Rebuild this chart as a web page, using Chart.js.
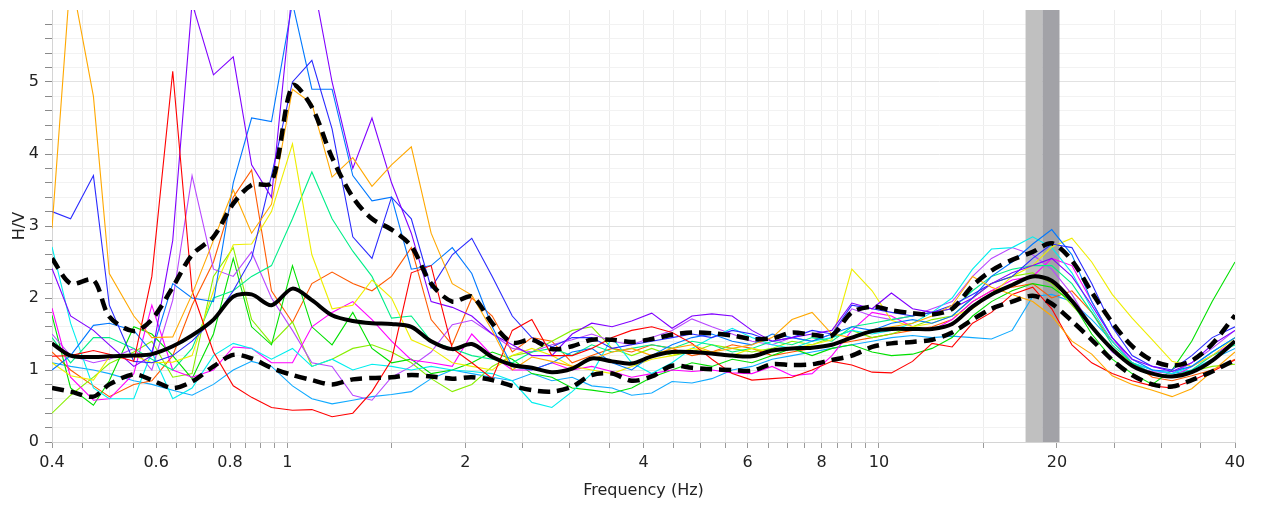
<!DOCTYPE html>
<html>
<head>
<meta charset="utf-8">
<script src="https://cdn.jsdelivr.net/npm/chart.js@4.4.1/dist/chart.umd.min.js"></script>
<style>
  html, body { margin: 0; padding: 0; background: #fff; }
  #wrap { width: 1263px; height: 507px; position: relative; }
</style>
</head>
<body>
<div id="wrap"><canvas id="hvChart"></canvas></div>
<script>
// frequency samples (Hz)
const freqs = [0.40, 0.43, 0.47, 0.50, 0.55, 0.59, 0.64, 0.69, 0.75, 0.81,
  0.87, 0.94, 1.02, 1.10, 1.19, 1.29, 1.39, 1.50, 1.62, 1.75,
  1.90, 2.05, 2.22, 2.40, 2.59, 2.80, 3.03, 3.27, 3.54, 3.82,
  4.13, 4.47, 4.83, 5.22, 5.65, 6.10, 6.60, 7.13, 7.71, 8.33,
  9.00, 9.74, 10.5, 11.4, 12.3, 13.3, 14.4, 15.5, 16.8, 18.2,
  19.6, 21.2, 22.9, 24.8, 26.8, 29.0, 31.3, 33.8, 36.6, 40.0];

// average H/V and mean +/- std
const meanHV = [1.37, 1.20, 1.18, 1.19, 1.20, 1.22, 1.33, 1.48, 1.70, 2.02,
  2.05, 1.90, 2.13, 1.97, 1.76, 1.68, 1.65, 1.64, 1.60, 1.40,
  1.29, 1.36, 1.18, 1.07, 1.03, 0.97, 1.02, 1.16, 1.12, 1.09,
  1.19, 1.25, 1.25, 1.23, 1.20, 1.19, 1.27, 1.30, 1.31, 1.35,
  1.45, 1.54, 1.57, 1.57, 1.57, 1.64, 1.88, 2.05, 2.18, 2.30,
  2.24, 1.96, 1.60, 1.29, 1.06, 0.95, 0.91, 0.97, 1.13, 1.40];
const upperHV = [2.55, 2.20, 2.25, 1.74, 1.54, 1.70, 2.15, 2.60, 2.85, 3.31,
  3.57, 3.60, 4.95, 4.65, 3.95, 3.40, 3.10, 2.95, 2.72, 2.20,
  1.95, 2.02, 1.65, 1.38, 1.42, 1.29, 1.33, 1.42, 1.42, 1.39,
  1.43, 1.49, 1.52, 1.51, 1.48, 1.43, 1.44, 1.52, 1.49, 1.48,
  1.80, 1.88, 1.83, 1.79, 1.77, 1.85, 2.17, 2.38, 2.53, 2.64,
  2.76, 2.52, 2.08, 1.66, 1.33, 1.13, 1.06, 1.13, 1.36, 1.76];
const lowerHV = [0.75, 0.70, 0.63, 0.80, 0.94, 0.86, 0.75, 0.84, 1.05, 1.21,
  1.16, 1.03, 0.93, 0.86, 0.80, 0.87, 0.89, 0.90, 0.93, 0.91,
  0.88, 0.90, 0.86, 0.78, 0.72, 0.70, 0.77, 0.93, 0.95, 0.85,
  0.91, 1.06, 1.03, 1.01, 1.00, 0.99, 1.08, 1.07, 1.08, 1.14,
  1.20, 1.32, 1.37, 1.39, 1.42, 1.52, 1.70, 1.85, 1.95, 2.03,
  1.92, 1.68, 1.42, 1.14, 0.93, 0.80, 0.77, 0.86, 0.98, 1.14];

// individual time windows
const win01 = [2.97, 6.50, 4.80, 2.34, 1.75, 1.45, 1.46, 2.05, 2.80, 3.50,
  2.90, 3.30, 4.90, 4.70, 3.68, 3.95, 3.55, 3.85, 4.10, 2.90,
  2.20, 2.04, 1.55, 1.00, 1.18, 1.12, 1.05, 1.15, 1.25, 1.30,
  1.20, 1.30, 1.35, 1.25, 1.30, 1.35, 1.45, 1.70, 1.80, 1.50,
  1.45, 1.55, 1.60, 1.65, 1.75, 1.90, 2.30, 2.15, 2.05, 1.95,
  1.75, 1.40, 1.22, 0.92, 0.80, 0.72, 0.63, 0.74, 0.98, 1.25];
const win02 = [1.19, 1.20, 1.27, 1.22, 1.12, 2.30, 5.15, 2.10, 1.25, 0.78,
  0.62, 0.48, 0.44, 0.45, 0.35, 0.40, 0.70, 1.14, 2.35, 2.45,
  1.30, 1.10, 0.88, 1.55, 1.70, 1.20, 1.20, 1.30, 1.45, 1.55,
  1.60, 1.52, 1.37, 1.15, 0.95, 0.86, 0.88, 0.90, 1.00, 1.12,
  1.07, 0.97, 0.96, 1.12, 1.37, 1.32, 1.65, 1.80, 2.05, 2.15,
  1.85, 1.35, 1.10, 0.95, 0.85, 0.78, 0.75, 0.85, 0.98, 1.14];
const win03 = [2.41, 1.75, 1.55, 1.35, 1.05, 1.20, 2.80, 6.10, 5.10, 5.35,
  3.85, 3.40, 6.30, 6.50, 5.00, 3.80, 4.50, 3.60, 2.90, 1.95,
  1.87, 1.75, 1.50, 1.35, 1.20, 1.20, 1.50, 1.65, 1.60, 1.68,
  1.79, 1.58, 1.75, 1.78, 1.75, 1.55, 1.40, 1.45, 1.50, 1.55,
  1.93, 1.85, 2.07, 1.85, 1.80, 1.85, 2.00, 2.20, 2.35, 2.45,
  2.55, 2.30, 1.90, 1.45, 1.15, 1.05, 0.98, 1.10, 1.35, 1.55];
const win04 = [3.20, 3.10, 3.70, 1.90, 1.12, 1.10, 1.20, 1.40, 1.70, 2.10,
  2.55, 3.70, 5.00, 5.30, 4.35, 2.85, 2.55, 3.40, 3.10, 2.14,
  2.60, 2.83, 2.30, 1.75, 1.45, 1.32, 1.45, 1.45, 1.30, 1.35,
  1.40, 1.45, 1.50, 1.45, 1.55, 1.50, 1.40, 1.45, 1.55, 1.50,
  1.90, 1.85, 1.80, 1.75, 1.80, 1.90, 2.05, 2.20, 2.30, 2.55,
  2.75, 2.70, 2.20, 1.60, 1.20, 1.05, 1.00, 1.20, 1.45, 1.60];
const win05 = [1.00, 1.20, 1.62, 1.65, 1.55, 1.25, 2.20, 2.00, 1.95, 3.60,
  4.50, 4.45, 6.10, 4.90, 4.90, 3.70, 3.35, 3.40, 2.40, 2.45,
  2.70, 2.34, 1.60, 1.05, 1.00, 1.10, 1.25, 1.30, 1.10, 1.00,
  1.20, 1.35, 1.45, 1.50, 1.40, 1.35, 1.50, 1.45, 1.40, 1.50,
  1.60, 1.55, 1.65, 1.70, 1.65, 1.75, 2.00, 2.30, 2.50, 2.75,
  2.95, 2.60, 1.95, 1.45, 1.15, 1.00, 0.98, 1.05, 1.25, 1.45];
const win06 = [1.10, 0.92, 0.86, 1.18, 1.20, 1.10, 1.11, 1.20, 2.10, 2.74,
  2.75, 3.20, 4.14, 2.60, 1.85, 1.90, 2.25, 2.00, 1.42, 1.30,
  1.10, 1.05, 1.00, 1.20, 1.30, 1.20, 1.05, 1.00, 0.95, 1.05,
  1.15, 1.20, 1.30, 1.25, 1.20, 1.30, 1.25, 1.30, 1.35, 1.42,
  2.40, 2.10, 1.69, 1.60, 1.65, 1.75, 1.85, 2.05, 2.30, 2.45,
  2.71, 2.83, 2.50, 2.05, 1.72, 1.42, 1.12, 1.05, 1.20, 1.45];
const win07 = [1.45, 1.10, 1.45, 1.45, 1.30, 1.15, 1.00, 1.30, 2.00, 2.10,
  2.30, 2.45, 3.10, 3.75, 3.10, 2.65, 2.30, 1.72, 1.75, 1.40,
  1.30, 1.20, 1.15, 1.10, 1.25, 1.30, 1.20, 1.35, 1.25, 1.30,
  1.35, 1.30, 1.40, 1.35, 1.25, 1.30, 1.40, 1.35, 1.45, 1.40,
  1.60, 1.65, 1.70, 1.75, 1.80, 1.85, 2.10, 2.30, 2.40, 2.45,
  2.45, 2.20, 1.80, 1.35, 1.10, 0.95, 0.92, 1.00, 1.20, 1.35];
const win08 = [2.71, 1.65, 0.75, 0.60, 0.60, 1.25, 0.60, 0.75, 1.20, 1.37,
  1.30, 1.15, 1.30, 1.05, 1.15, 1.00, 1.08, 1.05, 1.00, 1.05,
  1.00, 0.98, 0.95, 0.85, 0.55, 0.48, 0.70, 0.95, 1.45, 1.10,
  0.95, 1.10, 1.30, 1.45, 1.58, 1.45, 1.35, 1.30, 1.40, 1.45,
  1.55, 1.50, 1.55, 1.65, 1.80, 2.00, 2.40, 2.68, 2.70, 2.85,
  2.70, 2.35, 1.85, 1.40, 1.10, 1.00, 0.95, 1.05, 1.25, 1.45];
const win09 = [1.86, 0.90, 0.58, 0.60, 0.95, 1.90, 1.00, 0.90, 1.00, 1.32,
  1.30, 1.10, 1.10, 1.60, 1.80, 1.95, 1.70, 1.40, 1.14, 1.10,
  1.05, 1.50, 1.20, 1.00, 1.00, 1.10, 1.00, 1.05, 0.98, 0.90,
  0.95, 1.00, 0.98, 1.00, 0.96, 0.95, 1.05, 0.92, 0.95, 1.20,
  1.55, 1.80, 1.75, 1.60, 1.55, 1.70, 1.95, 2.10, 2.25, 2.30,
  2.55, 2.45, 1.95, 1.45, 1.10, 0.95, 0.90, 1.05, 1.20, 1.40];
const win10 = [1.50, 1.20, 1.10, 1.15, 1.30, 1.00, 1.97, 3.70, 2.40, 2.30,
  2.64, 2.00, 1.55, 1.10, 1.05, 0.65, 0.58, 0.90, 1.05, 1.25,
  1.63, 1.69, 1.50, 1.30, 1.25, 1.35, 1.42, 1.50, 1.40, 1.35,
  1.45, 1.55, 1.71, 1.60, 1.50, 1.40, 1.35, 1.45, 1.40, 1.50,
  1.85, 1.75, 1.70, 1.75, 1.85, 1.95, 2.30, 2.55, 2.70, 2.60,
  2.40, 2.05, 1.60, 1.25, 1.05, 0.98, 0.95, 1.10, 1.30, 1.55];
const win11 = [1.76, 0.75, 0.51, 0.85, 1.60, 1.50, 1.20, 0.88, 1.50, 2.55,
  1.60, 1.35, 2.45, 1.60, 1.35, 1.80, 1.30, 1.10, 1.15, 0.95,
  1.00, 1.10, 1.25, 1.15, 0.95, 0.90, 0.75, 0.72, 0.68, 0.75,
  0.90, 1.00, 1.10, 1.05, 1.15, 1.10, 1.20, 1.30, 1.20, 1.30,
  1.35, 1.25, 1.20, 1.22, 1.30, 1.45, 1.75, 1.95, 2.10, 2.20,
  2.15, 1.95, 1.50, 1.15, 0.95, 0.80, 1.00, 1.40, 1.95, 2.50];
const win12 = [0.40, 0.65, 0.90, 1.09, 1.25, 1.40, 0.90, 0.95, 2.30, 2.70,
  1.70, 1.37, 1.67, 1.05, 1.15, 1.30, 1.35, 1.25, 1.10, 0.88,
  0.70, 0.80, 1.05, 1.20, 1.25, 1.40, 1.55, 1.60, 1.30, 1.20,
  1.30, 1.20, 1.25, 1.35, 1.30, 1.25, 1.30, 1.40, 1.35, 1.45,
  1.55, 1.45, 1.50, 1.60, 1.70, 1.75, 2.00, 2.20, 2.30, 2.35,
  2.20, 1.90, 1.60, 1.30, 1.10, 0.95, 0.90, 0.98, 1.05, 1.08];
const win13 = [1.25, 1.00, 0.78, 0.63, 0.80, 0.85, 1.20, 1.90, 2.50, 3.40,
  3.78, 2.10, 1.66, 2.20, 2.36, 2.20, 2.10, 2.30, 2.70, 1.70,
  1.35, 2.00, 1.75, 1.25, 1.45, 1.40, 1.10, 1.20, 1.30, 1.25,
  1.35, 1.30, 1.20, 1.25, 1.35, 1.30, 1.20, 1.25, 1.30, 1.35,
  1.40, 1.45, 1.50, 1.55, 1.60, 1.70, 1.95, 2.10, 2.15, 2.20,
  2.00, 2.10, 1.80, 1.40, 1.10, 0.90, 0.85, 0.92, 1.00, 1.15];
const win14 = [1.10, 1.05, 1.00, 0.95, 0.85, 0.80, 0.72, 0.65, 0.80, 1.00,
  1.12, 1.05, 0.78, 0.60, 0.53, 0.58, 0.63, 0.66, 0.70, 0.88,
  1.00, 0.95, 0.90, 0.85, 0.95, 0.85, 0.90, 0.78, 0.75, 0.65,
  0.68, 0.84, 0.82, 0.88, 1.00, 1.05, 1.15, 1.20, 1.25, 1.30,
  1.35, 1.40, 1.45, 1.48, 1.45, 1.47, 1.45, 1.43, 1.55, 2.02,
  2.05, 1.95, 1.70, 1.40, 1.10, 1.00, 0.95, 1.00, 1.15, 1.30];

// peak frequency band (f0 - std .. f0 .. f0 + std)
const peakBandFrom = [17.7, 18.9];
const peakBandTo = [18.9, 20.2];

// axis ticks
const xTickValues = [0.4, 0.45, 0.5, 0.55, 0.6, 0.65, 0.7, 0.75, 0.8, 0.85, 0.9, 0.95,
  1, 1.5, 2, 2.5, 3, 3.5, 4, 4.5, 5, 5.5, 6, 6.5, 7, 7.5, 8, 8.5, 9, 9.5,
  10, 15, 20, 25, 30, 35, 40];
const xTickLabels = [0.4, 0.6, 0.8, 1, 2, 4, 6, 8, 10, 20, 40];
const yTickValues = [0, 0.2, 0.4, 0.6, 0.8, 1, 1.2, 1.4, 1.6, 1.8, 2, 2.2, 2.4, 2.6, 2.8,
  3, 3.2, 3.4, 3.6, 3.8, 4, 4.2, 4.4, 4.6, 4.8, 5, 5.2, 5.4, 5.6, 5.8];

const windowSeries = [win01, win02, win03, win04, win05, win06, win07,
  win08, win09, win10, win11, win12, win13, win14];
const windowColors = ['#ffa800', '#ff0000', '#8000ff', '#2a2aff', '#0078ff', '#eeee00', '#00ee88',
  '#00eeee', '#ff00ff', '#b848ff', '#00e000', '#88ee00', '#ff5a00', '#10aaff'];

Chart.defaults.font.family = '"DejaVu Sans", Verdana, sans-serif';
Chart.defaults.font.size = 16;
Chart.defaults.color = '#222';

function toPoints(vals) {
    return freqs.map(function (f, i) { return {x: f, y: vals[i]}; });
}

var datasets = [
    {label: 'Average', data: toPoints(meanHV), borderColor: '#000', borderWidth: 4, tension: 0.3, order: 0},
    {label: 'Average + std', data: toPoints(upperHV), borderColor: '#000', borderWidth: 4.5, borderDash: [12, 7], tension: 0.3, order: 0},
    {label: 'Average - std', data: toPoints(lowerHV), borderColor: '#000', borderWidth: 4.5, borderDash: [12, 7], tension: 0.3, order: 0}
];
windowSeries.forEach(function (vals, i) {
    datasets.push({
        label: 'Window ' + (i + 1),
        data: toPoints(vals),
        borderColor: windowColors[i],
        borderWidth: 1.1,
        tension: 0,
        order: 1
    });
});

// grey band for the peak frequency and its deviation
const peakBands = {
    id: 'peakBands',
    beforeDatasetsDraw: function (chart) {
        const ctx = chart.ctx, area = chart.chartArea, x = chart.scales.x;
        const fills = ['#c0c0c0', '#a2a2a7'];
        ctx.save();
        peakBandFrom.forEach(function (f, i) {
            const x0 = x.getPixelForValue(f), x1 = x.getPixelForValue(peakBandTo[i]);
            ctx.fillStyle = fills[i];
            ctx.fillRect(x0, area.top, x1 - x0, area.bottom - area.top);
        });
        ctx.restore();
    }
};

var ctx = document.getElementById('hvChart');
var hvChart = new Chart(ctx, {
    type: 'line',
    data: {datasets: datasets},
    options: {
        responsive: true,
        maintainAspectRatio: false,
        animation: false,
        layout: {padding: {top: 10, right: 28, left: 0, bottom: 0}},
        elements: {point: {radius: 0}, line: {fill: false}},
        datasets: {line: {clip: 0}},
        plugins: {legend: {display: false}, tooltip: {enabled: false}},
        scales: {
            x: {
                type: 'logarithmic',
                min: 0.4,
                max: 40,
                afterBuildTicks: function (s) { s.ticks = xTickValues.map(function (v) { return {value: v}; }); },
                afterFit: function (s) { s.height = 65; },
                ticks: {
                    autoSkip: false,
                    maxRotation: 0,
                    padding: 5,
                    color: '#222',
                    callback: function (v) { return xTickLabels.indexOf(v) >= 0 ? String(v) : ''; }
                },
                grid: {color: '#ececec', tickColor: '#9a9a9a', tickLength: 6},
                border: {display: true, color: '#d4d4d4'},
                title: {display: true, text: 'Frequency (Hz)', color: '#222', padding: {top: 7, bottom: 7}}
            },
            y: {
                min: 0,
                max: 6,
                afterBuildTicks: function (s) { s.ticks = yTickValues.map(function (v) { return {value: v}; }); },
                afterFit: function (s) { s.width = 52; s.paddingTop = 0; s.paddingBottom = 0; },
                ticks: {
                    autoSkip: false,
                    padding: 6,
                    color: '#222',
                    callback: function (v) { return Math.abs(v - Math.round(v)) < 1e-6 ? String(Math.round(v)) : ''; }
                },
                grid: {
                    color: function (c) {
                        var v = c.tick ? c.tick.value : 0;
                        return Math.abs(v - Math.round(v)) < 1e-6 ? '#e2e2e2' : '#f2f2f2';
                    },
                    tickColor: '#8a8a8a',
                    tickLength: 7
                },
                border: {display: true, color: '#d4d4d4'},
                title: {display: true, text: 'H/V', color: '#222', padding: {top: 10, bottom: 10}}
            }
        }
    },
    plugins: [peakBands]
});
</script>
</body>
</html>
